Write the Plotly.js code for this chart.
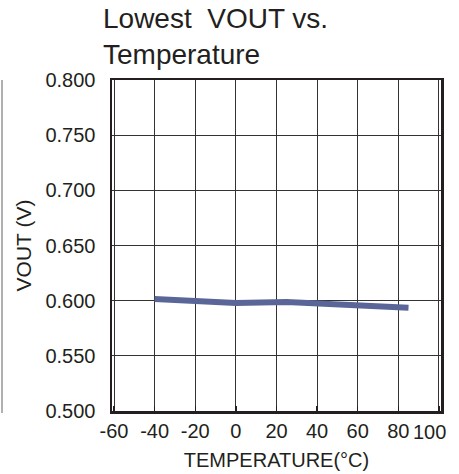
<!DOCTYPE html>
<html>
<head>
<meta charset="utf-8">
<script src="https://cdn.plot.ly/plotly-3.0.1.min.js"></script>
<style>
  html, body { margin: 0; padding: 0; background: #ffffff; }
  #chart { width: 459px; height: 474px; }
</style>
</head>
<body>
<div id="chart"></div>
<script>
// Data
const temperatures = [-40, -20, 0, 25, 40, 60, 85];
const voutLowest = [0.6015, 0.6000, 0.5978, 0.5988, 0.5975, 0.5958, 0.5935];

const xTickVals = [-60, -40, -20, 0, 20, 40, 60, 80, 100];
const xTickText = ['-60', '-40', '-20', '0', '20', '40', '60', '80', ''];
const yTickVals = [0.5, 0.55, 0.6, 0.65, 0.7, 0.75, 0.8];
const yTickText = ['0.500', '0.550', '0.600', '0.650', '0.700', '0.750', '0.800'];

const ink = '#231f20';
const fontFamily = '"Liberation Sans", Arial, sans-serif';

const trace = {
  x: temperatures,
  y: voutLowest,
  type: 'scatter',
  mode: 'lines',
  line: { color: '#5b6698', width: 6 },
  hoverinfo: 'skip'
};

const layout = {
  width: 459,
  height: 474,
  margin: { l: 112, r: 18, t: 80, b: 63, pad: 0 },
  paper_bgcolor: '#ffffff',
  plot_bgcolor: '#ffffff',
  showlegend: false,
  font: { family: fontFamily, color: ink, size: 20 },
  title: {
    text: 'Lowest\u00A0 VOUT vs.<br>Temperature',
    font: { family: fontFamily, size: 28, color: ink },
    xref: 'container', x: 103 / 459, xanchor: 'left',
    yref: 'container', y: 1 - 28 / 474, yanchor: 'top'
  },
  xaxis: {
    range: [-61, 101],
    tickmode: 'array',
    tickvals: xTickVals,
    ticktext: xTickText,
    ticks: 'inside',
    ticklen: 5,
    tickwidth: 1.5,
    tickcolor: ink,
    tickfont: { family: fontFamily, size: 20, color: ink },
    showgrid: true,
    gridcolor: '#333333',
    gridwidth: 1,
    zeroline: false,
    showline: true,
    linecolor: ink,
    linewidth: 2.5,
    mirror: true,
    title: {
      text: 'TEMPERATURE(°C)',
      font: { family: fontFamily, size: 20, color: ink },
      standoff: 13
    }
  },
  yaxis: {
    range: [0.5, 0.8],
    tickmode: 'array',
    tickvals: yTickVals,
    ticktext: yTickText,
    ticks: 'outside',
    ticklen: 10,
    tickcolor: 'rgba(0,0,0,0)',
    tickfont: { family: fontFamily, size: 20, color: ink },
    showgrid: true,
    gridcolor: '#333333',
    gridwidth: 1,
    zeroline: false,
    showline: true,
    linecolor: ink,
    linewidth: 2.5,
    mirror: true,
    title: {
      text: 'VOUT (V)',
      font: { family: fontFamily, size: 21, color: ink },
      standoff: 8
    }
  },
  annotations: [
    {
      text: '100',
      x: 100, xref: 'x',
      y: 0, yref: 'paper',
      xanchor: 'center', yanchor: 'top',
      xshift: -9, yshift: -8,
      showarrow: false,
      font: { family: fontFamily, size: 20, color: ink }
    }
  ],
  shapes: [
    {
      type: 'line', xref: 'paper', yref: 'paper',
      x0: (2 - 112) / 329, x1: (2 - 112) / 329,
      y0: (411 - 413) / 331, y1: 1,
      line: { color: '#b0b0b0', width: 2 }
    }
  ]
};

Plotly.newPlot('chart', [trace], layout, { displayModeBar: false, staticPlot: true });
</script>
</body>
</html>
